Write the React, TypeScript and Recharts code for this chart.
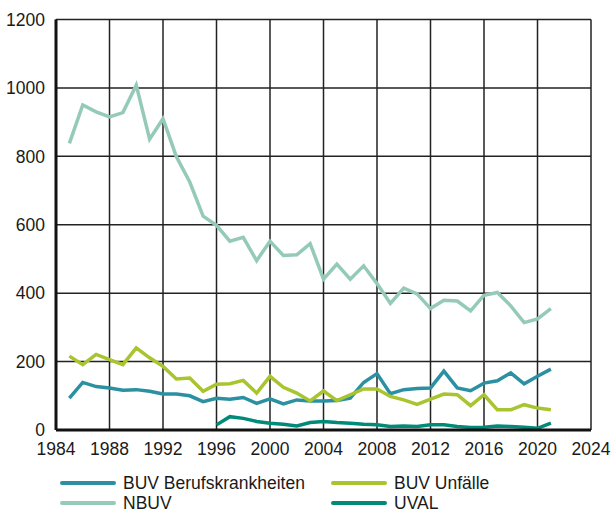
import { LineChart, Line, XAxis, YAxis, CartesianGrid } from 'recharts';

const years = [
  1985, 1986, 1987, 1988, 1989, 1990, 1991, 1992, 1993, 1994, 1995, 1996, 1997,
  1998, 1999, 2000, 2001, 2002, 2003, 2004, 2005, 2006, 2007, 2008, 2009, 2010,
  2011, 2012, 2013, 2014, 2015, 2016, 2017, 2018, 2019, 2020, 2021,
];

const buvBerufskrankheiten = [
  93, 139, 127, 123, 116, 118, 113, 105, 105, 100, 83, 93, 90, 95, 78, 91, 76,
  88, 85, 85, 86, 93, 139, 165, 106, 118, 121, 123, 172, 123, 115, 137, 144, 167,
  135, 157, 178,
];

const buvUnfaelle = [
  216, 191, 221, 206, 191, 240, 211, 186, 149, 152, 113, 134, 135, 145, 108, 157,
  125, 108, 85, 114, 86, 103, 120, 120, 98, 88, 75, 90, 105, 103, 71, 103, 59, 59,
  74, 64, 59,
];

const nbuv = [
  838, 950, 930, 915, 928, 1008, 850, 910, 799, 725, 625, 598, 552, 563, 495, 552,
  510, 512, 545, 441, 485, 441, 480, 428, 370, 415, 398, 355, 379, 377, 348, 394,
  402, 363, 314, 325, 355,
];

const uval: (number | null)[] = [
  null, null, null, null, null, null, null, null, null, null, null, 15, 39, 34,
  25, 20, 17, 12, 22, 25, 22, 20, 17, 15, 10, 12, 10, 15, 15, 10, 7, 8, 12, 10, 8,
  5, 20,
];

const xTicks = [1984, 1988, 1992, 1996, 2000, 2004, 2008, 2012, 2016, 2020, 2024];
const yTicks = [0, 200, 400, 600, 800, 1000, 1200];

const series = [
  { key: 'bk', name: 'BUV Berufskrankheiten', color: '#2b90a2' },
  { key: 'unf', name: 'BUV Unfälle', color: '#a8c42e' },
  { key: 'nbuv', name: 'NBUV', color: '#95cab9' },
  { key: 'uval', name: 'UVAL', color: '#008a78' },
];

const data = years.map((y, i) => ({
  year: y,
  bk: buvBerufskrankheiten[i],
  unf: buvUnfaelle[i],
  nbuv: nbuv[i],
  uval: uval[i],
}));

const font = '"Liberation Sans", Arial, Helvetica, sans-serif';
const tick = { fill: '#1a1a1a', fontSize: 17.5, fontFamily: font };

export default function App() {
  return (
    <div
      style={{
        position: 'absolute',
        top: 0,
        left: 0,
        width: 612,
        height: 513,
        overflow: 'hidden',
        background: '#fff',
        fontFamily: font,
      }}
    >
      <LineChart width={612} height={460} data={data} margin={{ top: 19.5, right: 21, bottom: 0, left: 0 }}>
        <CartesianGrid stroke="#222" strokeWidth={1.5} />
        <XAxis
          dataKey="year"
          type="number"
          domain={[1984, 2024]}
          ticks={xTicks}
          tick={tick}
          tickLine={false}
          axisLine={{ stroke: '#111', strokeWidth: 3 }}
          height={30}
          tickMargin={7}
        />
        <YAxis
          type="number"
          domain={[0, 1200]}
          ticks={yTicks}
          tick={tick}
          tickLine={false}
          axisLine={{ stroke: '#111', strokeWidth: 3 }}
          width={56}
          tickMargin={5}
        />
        {series.map((s) => (
          <Line
            key={s.key}
            dataKey={s.key}
            name={s.name}
            stroke={s.color}
            strokeWidth={3.5}
            dot={false}
            type="linear"
            connectNulls={false}
            isAnimationActive={false}
          />
        ))}
      </LineChart>
      {series.map((s, i) => (
        <div
          key={s.key}
          style={{
            position: 'absolute',
            left: i % 2 === 0 ? 60 : 331,
            top: 473 + Math.floor(i / 2) * 20,
            height: 20,
            lineHeight: '20px',
            display: 'flex',
            alignItems: 'center',
            fontSize: 17.5,
            color: '#1a1a1a',
            whiteSpace: 'nowrap',
          }}
        >
          <span
            style={{
              display: 'inline-block',
              width: 56,
              height: 4,
              borderRadius: 2,
              background: s.color,
              marginRight: 7,
            }}
          />
          {s.name}
        </div>
      ))}
    </div>
  );
}
